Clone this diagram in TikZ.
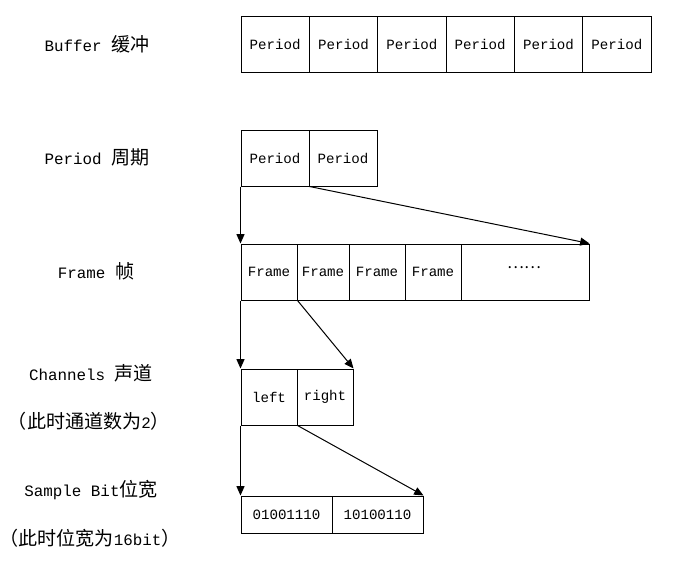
\documentclass[tikz,border=0pt]{standalone}
\usepackage{fontspec}
\setmainfont{Liberation Mono}
\newfontfamily\cjk{Noto Sans CJK SC}
\newcommand{\zh}[1]{{\fontsize{14.3pt}{16pt}\selectfont\cjk #1}}
\usetikzlibrary{arrows.meta}
\begin{document}
\begin{tikzpicture}[x=0.75pt,y=-0.75pt,
  cell/.style={draw,line width=0.75pt,inner sep=0pt,font=\fontsize{10.6pt}{12pt}\selectfont},
  lbl/.style={inner sep=0pt,font=\fontsize{11.9pt}{14pt}\selectfont},
  arr/.style={line width=0.75pt,-{Triangle[length=7pt,width=6pt]}}]
\useasboundingbox (0,0) rectangle (696,578);
% Buffer
\foreach \i/\cx in {1/275.17,2/343.5,3/411.83,4/480.17,5/548.5,6/616.83}
  \node[cell,minimum width=51.25pt,minimum height=42pt] (b\i) at (\cx,44) {Period};
% Period
\node[cell,minimum width=51pt,minimum height=42pt] (p1) at (275,158) {Period};
\node[cell,minimum width=51pt,minimum height=42pt] (p2) at (343,158) {Period};
% Frame
\node[cell,minimum width=42pt,minimum height=42pt] (f1) at (269,272) {Frame};
\node[cell,minimum width=39pt,minimum height=42pt] (f2) at (323,272) {Frame};
\node[cell,minimum width=42pt,minimum height=42pt] (f3) at (377,272) {Frame};
\node[cell,minimum width=42pt,minimum height=42pt] (f4) at (433,272) {Frame};
\node[cell,minimum width=96pt,minimum height=42pt] (f5) at (525,272) {};
\node[lbl] (dots) at (524,268) {\cjk ……};
% Channels
\node[cell,minimum width=42pt,minimum height=42pt] (c1) at (269,397) {left};
\node[cell,minimum width=42pt,minimum height=42pt] (c2) at (325,397) {right};
% Sample
\node[cell,minimum width=68.25pt,minimum height=27.75pt] (s1) at (286.5,514.5) {01001110};
\node[cell,minimum width=68.25pt,minimum height=27.75pt] (s2) at (377.5,514.5) {10100110};
% arrows
\draw[arr] (p1.south west) -- (f1.north west);
\draw[arr] (p1.south east) -- (f5.north east);
\draw[arr] (f1.south west) -- (c1.north west);
\draw[arr] (f1.south east) -- (c2.north east);
\draw[arr] (c1.south west) -- (s1.north west);
\draw[arr] (c1.south east) -- (s2.north east);
% labels
\node[lbl] (lb) at (97,44) {Buffer \zh{缓冲}};
\node[lbl] (lp) at (97,157) {Period \zh{周期}};
\node[lbl] (lf) at (96,271) {Frame \zh{帧}};
\node[lbl] (lc) at (91,373) {Channels \zh{声道}};
\node[lbl] (lc2) at (89,421) {\zh{（此时通道数为}2\zh{）}};
\node[lbl] (ls) at (91,490) {Sample Bit\zh{位宽}};
\node[lbl] (ls2) at (90,538) {\zh{（此时位宽为}16bit\zh{）}};
\end{tikzpicture}
\end{document}
